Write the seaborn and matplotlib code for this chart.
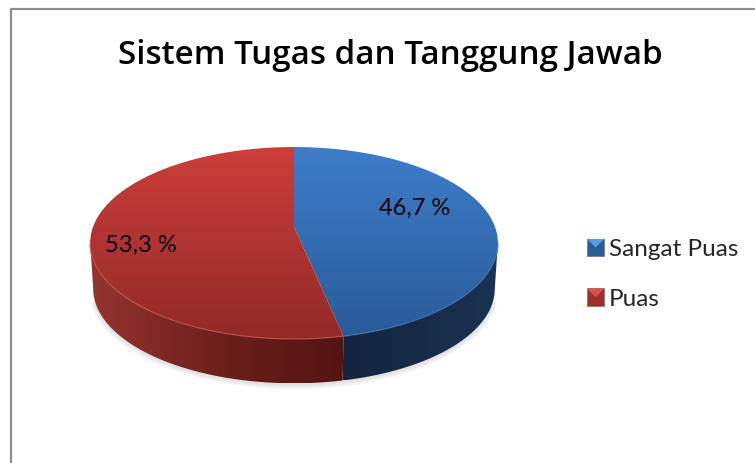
import numpy as np
import matplotlib
matplotlib.use('Agg')
import matplotlib.pyplot as plt
from matplotlib.patches import Polygon, Patch, Rectangle
from matplotlib.legend_handler import HandlerPatch
import seaborn as sns

# data
categories = ['Sangat Puas', 'Puas']
values = [46.7, 53.3]
value_labels = ['46,7 %', '53,3 %']
title = 'Sistem Tugas dan Tanggung Jawab'

sns.set_theme(style='white')
plt.rcParams['font.family'] = ['Lato', 'DejaVu Sans']

# colours for the face (top to bottom) and wall (left to right)
top_cmaps = [sns.blend_palette(['#3e7dca', '#2a5b99'], as_cmap=True),
             sns.blend_palette(['#cc3e3b', '#922a28'], as_cmap=True)]
wall_cmaps = [sns.blend_palette(['#13253e', '#1b3252'], as_cmap=True),
              sns.blend_palette(['#963430', '#6e201c', '#521412'], as_cmap=True)]
rim_colors = ['#3a6fb0', '#c04a45']

# pie perspective, in pixels
cx, cy = 294, 227
rx, ry, tilt = 201, 93.3, 1 / 6
depth = 46


def project(theta, shrink=1.0, dy=0.0):
    u, v = np.sin(theta), np.cos(theta)
    w = 1 + tilt * v
    return cx + shrink * rx * u / w, cy - shrink * ry * v / w + dy


def gradient(ax, cmap, poly, vertical=True):
    g = np.linspace(0, 1, 256)
    g = g[:, None] if vertical else g[None, :]
    x0, y0 = poly.min(axis=0)
    x1, y1 = poly.max(axis=0)
    im = ax.imshow(g, cmap=cmap, extent=(x0, x1, y1, y0), aspect='auto',
                   zorder=3, interpolation='bilinear')
    im.set_clip_path(Polygon(poly, closed=True, transform=ax.transData))


fig = plt.figure(figsize=(7.55, 4.63), dpi=100)
ax = fig.add_axes([0, 0, 1, 1])
ax.axis('off')

# chart frame, open to the right and bottom of the crop
ax.plot([10.5, 10.5, 755], [463, 8.5, 8.5], color='#8e8e8e', lw=1.6, zorder=1)

fracs = np.array(values) / sum(values)
edges = np.concatenate([[0], np.cumsum(fracs)]) * 2 * np.pi
left_t, right_t = np.radians(260.4), np.radians(99.6)

# soft shadow below the wall
sx, sy = project(np.linspace(right_t + 0.15, left_t - 0.15, 200), 0.98, depth + 1)
for lw in [8, 6, 4, 2]:
    ax.plot(sx, sy, color='#666666', alpha=0.05, lw=lw, zorder=2,
            solid_capstyle='round')

# side wall
for i in range(2):
    a = max(edges[i], right_t)
    b = min(edges[i + 1], left_t)
    t = np.linspace(a, b, 120)
    tx, ty = project(t)
    bx, by = project(t[::-1], 0.985, depth)
    poly = np.column_stack([np.r_[tx, bx], np.r_[ty, by]])
    gradient(ax, wall_cmaps[i], poly, vertical=False)

# top face
for i in range(2):
    t = np.linspace(edges[i], edges[i + 1], 200)
    tx, ty = project(t)
    poly = np.column_stack([np.r_[cx, tx], np.r_[cy, ty]])
    gradient(ax, top_cmaps[i], poly)
    # lighter rim only along the front edge
    front = (t > right_t) & (t < left_t)
    ax.plot(tx[front], ty[front], color=rim_colors[i], lw=1.1, alpha=0.7, zorder=4)

for label, x, y in zip(value_labels, [415, 141], [208, 245]):
    ax.text(x, y, label, ha='center', va='center', fontsize=17, color='black', zorder=5)

ax.text(390, 55, title, ha='center', va='center', fontsize=23.9, color='black',
        family=['Open Sans', 'DejaVu Sans'], weight='semibold')


class BevelHandler(HandlerPatch):
    def create_artists(self, legend, orig, xd, yd, width, height, fontsize, trans):
        base = Rectangle((-xd, -yd), width, height, facecolor=orig.get_facecolor(),
                         edgecolor=orig.get_edgecolor(), lw=0.5, transform=trans)
        tri = Polygon([(-xd, -yd + height), (-xd + width, -yd + height),
                       (-xd + width / 2, -yd + height * 0.5)], closed=True,
                      facecolor=orig.get_label(), edgecolor='none', transform=trans)
        return [base, tri]


swatch = ['#2c5c98', '#a02f2c']
shine = ['#5a9be0', '#d8524e']
handles = [Patch(facecolor=swatch[i], edgecolor='#777777', label=shine[i]) for i in range(2)]
leg = ax.legend(handles, categories, loc='upper left', bbox_to_anchor=(565 / 755, 1 - 217 / 463),
                frameon=False, fontsize=17.5, handlelength=0.72, handleheight=0.72,
                handletextpad=0.2, labelspacing=1.17,
                handler_map={Patch: BevelHandler()})

ax.set_xlim(0, 755)
ax.set_ylim(463, 0)
fig.savefig('out.png', dpi=100, facecolor='white')
